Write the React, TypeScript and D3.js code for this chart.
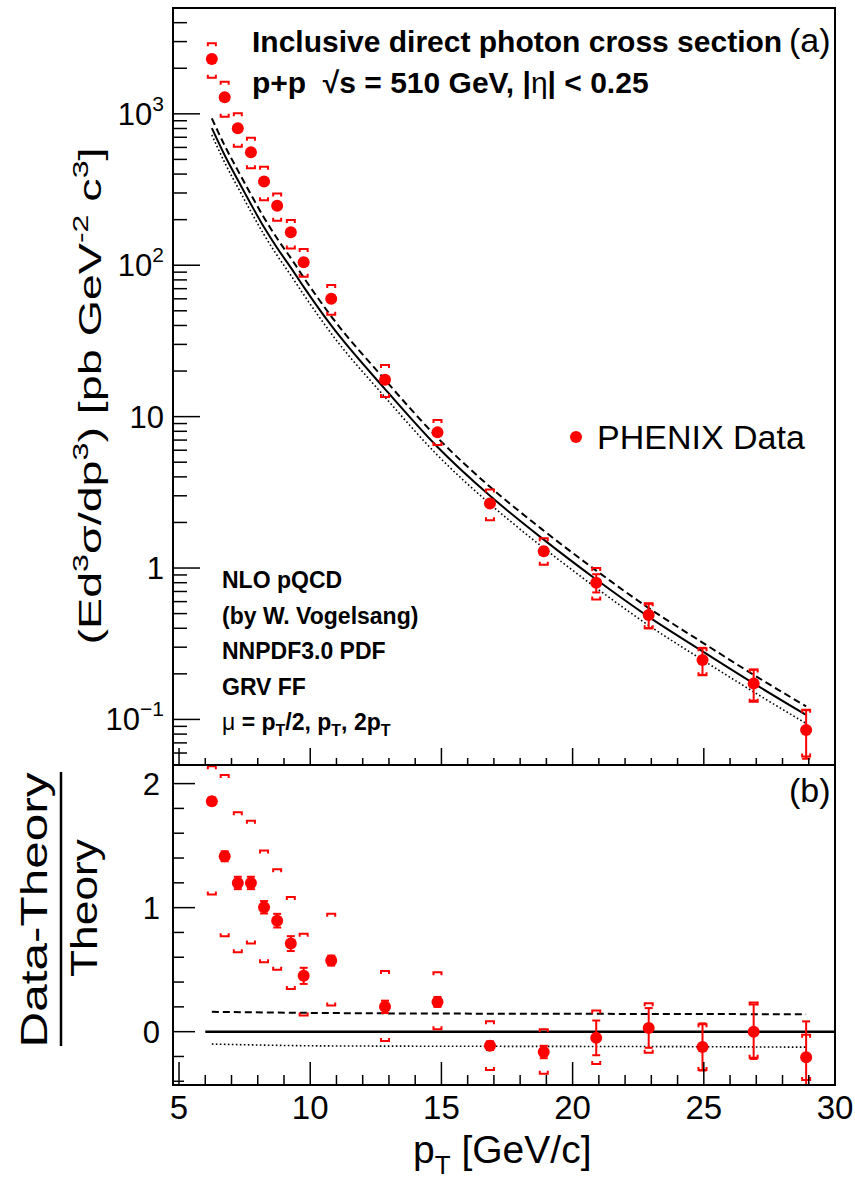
import React from "react";
import * as d3 from "d3";

// ---------- data ----------
const pT = [6.25, 6.74, 7.24, 7.74, 8.24, 8.74, 9.26, 9.75, 10.8, 12.85, 14.85, 16.85, 18.9, 20.9, 22.9, 24.95, 26.9, 28.9];

// upper panel: invariant cross section (pb GeV^-2 c^3)
const xsec = [2300, 1285, 802, 557, 357, 247, 165, 104.5, 60, 17.5, 7.87, 2.67, 1.29, 0.8, 0.49, 0.247, 0.173, 0.085];
const xsecStat = [20, 15, 12, 9, 7, 5, 4, 3, 1.2, 0.5, 0.25, 0.12, 0.07, 0.11, 0.09, 0.05, 0.04, 0.03];
const xsecSysHi = [2930, 1630, 1008, 695, 447, 298, 199, 128, 74, 21.9, 9.5, 3.3, 1.57, 1.0, 0.585, 0.295, 0.214, 0.116];
const xsecSysLo = [1730, 957, 607, 437, 269, 197, 129, 84, 47, 13.5, 6.5, 2.07, 1.05, 0.62, 0.4, 0.196, 0.131, 0.057];

// NLO pQCD curves (mu = pT, pT/2, 2pT)
const theoryMu1 = [805, 532, 365, 253, 178, 130, 96.5, 72, 40, 15.2, 6.3, 3.0, 1.54, 0.84, 0.476, 0.282, 0.173, 0.107];
const theoryMuHalf = [934, 617, 423, 293, 206, 150, 111.5, 83, 46, 17.5, 7.25, 3.44, 1.765, 0.962, 0.544, 0.322, 0.197, 0.122];
const theoryMu2 = [725, 477, 327, 226, 159, 116, 85.8, 64, 35.4, 13.45, 5.56, 2.65, 1.355, 0.739, 0.418, 0.247, 0.152, 0.094];

// lower panel: (Data-Theory)/Theory
const ratio = [1.857, 1.414, 1.199, 1.199, 1.003, 0.895, 0.71, 0.45, 0.573, 0.2, 0.24, -0.113, -0.164, -0.05, 0.03, -0.123, 0.0, -0.207];
const ratioStat = [0.03, 0.04, 0.05, 0.05, 0.05, 0.055, 0.06, 0.065, 0.04, 0.05, 0.04, 0.035, 0.05, 0.14, 0.16, 0.19, 0.22, 0.29];
const ratioSysHi = [2.14, 2.07, 1.77, 1.7, 1.46, 1.31, 1.086, 0.79, 0.95, 0.49, 0.48, 0.083, 0.02, 0.17, 0.23, 0.06, 0.236, -0.025];
const ratioSysLo = [1.105, 0.77, 0.64, 0.71, 0.56, 0.5, 0.344, 0.13, 0.21, -0.075, 0.02, -0.31, -0.34, -0.26, -0.17, -0.31, -0.21, -0.39];

const ratioCurvePt = [6.25, 10.8, 16.85, 22.9, 28.9];
const ratioMuHalf = [0.16, 0.15, 0.145, 0.143, 0.14];
const ratioMu2 = [-0.1, -0.115, -0.118, -0.12, -0.125];

const xMajorTicks = [5, 10, 15, 20, 25, 30];
const topMajorTicks = [0.1, 1, 10, 100, 1000];
const topTickLabels = [
  { base: "10", exp: "\u22121" },
  { base: "1", exp: "" },
  { base: "10", exp: "" },
  { base: "10", exp: "2" },
  { base: "10", exp: "3" },
];
const botMajorTicks = [0, 1, 2];
const botTickLabels = ["0", "1", "2"];

const infoLines = ["NLO pQCD", "(by W. Vogelsang)", "NNPDF3.0 PDF", "GRV FF"];

// ---------- layout ----------
const W = 855;
const H = 1180;
const L = 173;
const R = 835;
const T = 8;
const MID = 765;
const B = 1085;
const RED = "#ff0000";
const FONT = "'Liberation Sans', Arial, Helvetica, sans-serif";

export default function App() {
  const x = d3.scaleLinear().domain([4.77, 30]).range([L, R]);
  const yTop = d3.scaleLog().domain([0.05, 5000]).range([MID, T]);
  const yBot = d3.scaleLinear().domain([-0.43, 2.15]).range([B, MID]);

  const topLine = d3
    .line<[number, number]>()
    .x((d) => x(d[0]))
    .y((d) => yTop(d[1]))
    .curve(d3.curveMonotoneX);
  const botLine = d3
    .line<[number, number]>()
    .x((d) => x(d[0]))
    .y((d) => yBot(d[1]))
    .curve(d3.curveMonotoneX);

  const zip = (a: number[], b: number[]) => a.map((v, i) => [v, b[i]] as [number, number]);

  // minor ticks
  const xMinor = d3.range(5, 31, 1).filter((v) => v % 5 !== 0);
  const topMinor: number[] = [];
  for (let e = -2; e <= 3; e++) {
    for (let m = 2; m <= 9; m++) {
      const v = m * Math.pow(10, e);
      if (v >= 0.05 && v <= 5000) topMinor.push(v);
    }
  }
  const botMinor = d3.range(-0.4, 2.01, 0.2).filter((v) => Math.abs(v - Math.round(v)) > 0.01);

  const bracket = (cx: number, cy: number, up: boolean, key: string) => {
    const hw = 4;
    const leg = 3;
    const d = up
      ? `M${cx - hw},${cy + leg}V${cy}H${cx + hw}V${cy + leg}`
      : `M${cx - hw},${cy - leg}V${cy}H${cx + hw}V${cy - leg}`;
    return <path key={key} d={d} fill="none" stroke={RED} strokeWidth={2} />;
  };

  const statBar = (cx: number, y1: number, y2: number, key: string) => (
    <g key={key} stroke={RED} strokeWidth={2}>
      <line x1={cx} x2={cx} y1={y1} y2={y2} />
      <line x1={cx - 4} x2={cx + 4} y1={y1} y2={y1} />
      <line x1={cx - 4} x2={cx + 4} y1={y2} y2={y2} />
    </g>
  );

  return (
    <svg
      width={W}
      height={H}
      style={{ position: "absolute", left: 0, top: 0, background: "#fff" }}
      fontFamily={FONT}
    >
      <defs>
        <clipPath id="clipTop">
          <rect x={L} y={T} width={R - L} height={MID - T} />
        </clipPath>
        <clipPath id="clipBot">
          <rect x={L} y={MID} width={R - L} height={B - MID} />
        </clipPath>
      </defs>
      <rect x={0} y={0} width={W} height={H} fill="#fff" />

      {/* ---------- upper panel ---------- */}
      <g clipPath="url(#clipTop)">
        <path d={topLine(zip(pT, theoryMuHalf)) || ""} fill="none" stroke="#000" strokeWidth={2} strokeDasharray="7,4" />
        <path d={topLine(zip(pT, theoryMu2)) || ""} fill="none" stroke="#000" strokeWidth={1.6} strokeDasharray="1.6,2.4" />
        <path d={topLine(zip(pT, theoryMu1)) || ""} fill="none" stroke="#000" strokeWidth={2} />
        {pT.map((p, i) => (
          <g key={"ts" + i}>
            {bracket(x(p), yTop(xsecSysHi[i]), true, "a")}
            {bracket(x(p), yTop(xsecSysLo[i]), false, "b")}
          </g>
        ))}
        {pT.map((p, i) => statBar(x(p), yTop(xsec[i] + xsecStat[i]), yTop(xsec[i] - xsecStat[i]), "tst" + i))}
        {pT.map((p, i) => (
          <circle key={"tp" + i} cx={x(p)} cy={yTop(xsec[i])} r={6} fill={RED} />
        ))}
      </g>

      {/* upper panel axes */}
      <g stroke="#000" strokeWidth={1.5}>
        {topMajorTicks.map((v) => (
          <line key={"tm" + v} x1={L} x2={L + 27} y1={yTop(v)} y2={yTop(v)} />
        ))}
        {topMinor.map((v) => (
          <line key={"tn" + v} x1={L} x2={L + 14} y1={yTop(v)} y2={yTop(v)} />
        ))}
        {xMajorTicks.map((v) => (
          <line key={"xm" + v} x1={x(v)} x2={x(v)} y1={MID} y2={MID - 17} />
        ))}
        {xMinor.map((v) => (
          <line key={"xn" + v} x1={x(v)} x2={x(v)} y1={MID} y2={MID - 7} />
        ))}
      </g>
      <rect x={L} y={T} width={R - L} height={MID - T} fill="none" stroke="#000" strokeWidth={2} />

      {topMajorTicks.map((v, i) => (
        <text key={"tl" + v} x={164} y={yTop(v) + 11} textAnchor="end" fontSize={31} fill="#000">
          {topTickLabels[i].base}
          {topTickLabels[i].exp && (
            <tspan fontSize={21} dy={-14}>
              {topTickLabels[i].exp}
            </tspan>
          )}
        </text>
      ))}

      <text
        transform="translate(101,396) rotate(-90)"
        textAnchor="middle"
        fontSize={32}
        fill="#000"
        textLength={497}
        lengthAdjust="spacingAndGlyphs"
      >
        (Ed<tspan fontSize={22} dy={-13}>3</tspan>
        <tspan dy={13}>σ/dp</tspan>
        <tspan fontSize={22} dy={-13}>3</tspan>
        <tspan dy={13}>) [pb GeV</tspan>
        <tspan fontSize={22} dy={-13}>-2</tspan>
        <tspan dy={13}> c</tspan>
        <tspan fontSize={22} dy={-13}>3</tspan>
        <tspan dy={13}>]</tspan>
      </text>

      <text x={252} y={52} fontSize={30} fontWeight="bold" fill="#000">
        Inclusive direct photon cross section
      </text>
      <text x={789} y={52} fontSize={34} fill="#000">
        (a)
      </text>
      <text x={252} y={93} fontSize={30} fontWeight="bold" fill="#000" xmlSpace="preserve">
        {"p+p  \u221As = 510 GeV, |"}
        <tspan fontWeight="normal">η</tspan>
        {"| < 0.25"}
      </text>

      <circle cx={576} cy={437} r={6} fill={RED} />
      <text x={597} y={449} fontSize={34} fill="#000">
        PHENIX Data
      </text>

      {infoLines.map((s, i) => (
        <text key={"info" + i} x={222} y={588 + i * 35.6} fontSize={23} fontWeight="bold" fill="#000">
          {s}
        </text>
      ))}
      <text x={222} y={730} fontSize={23} fontWeight="bold" fill="#000">
        <tspan fontWeight="normal">μ</tspan>
        {" = p"}
        <tspan fontSize={16} dy={6}>T</tspan>
        <tspan dy={-6}>/2, p</tspan>
        <tspan fontSize={16} dy={6}>T</tspan>
        <tspan dy={-6}>, 2p</tspan>
        <tspan fontSize={16} dy={6}>T</tspan>
      </text>

      {/* ---------- lower panel ---------- */}
      <g clipPath="url(#clipBot)">
        <path d={botLine(zip(ratioCurvePt, ratioMuHalf)) || ""} fill="none" stroke="#000" strokeWidth={2} strokeDasharray="7,4" />
        <path d={botLine(zip(ratioCurvePt, ratioMu2)) || ""} fill="none" stroke="#000" strokeWidth={1.6} strokeDasharray="1.6,2.4" />
        <line x1={x(6)} x2={x(30)} y1={yBot(0)} y2={yBot(0)} stroke="#000" strokeWidth={2.5} />
        {pT.map((p, i) => (
          <g key={"bs" + i}>
            {bracket(x(p), yBot(ratioSysHi[i]), true, "a")}
            {bracket(x(p), yBot(ratioSysLo[i]), false, "b")}
          </g>
        ))}
        {pT.map((p, i) => statBar(x(p), yBot(ratio[i] + ratioStat[i]), yBot(ratio[i] - ratioStat[i]), "bst" + i))}
        {pT.map((p, i) => (
          <circle key={"bp" + i} cx={x(p)} cy={yBot(ratio[i])} r={6} fill={RED} />
        ))}
      </g>

      <g stroke="#000" strokeWidth={1.5}>
        {botMajorTicks.map((v) => (
          <line key={"bm" + v} x1={L} x2={L + 22} y1={yBot(v)} y2={yBot(v)} />
        ))}
        {botMinor.map((v, i) => (
          <line key={"bn" + i} x1={L} x2={L + 11} y1={yBot(v)} y2={yBot(v)} />
        ))}
        {xMajorTicks.map((v) => (
          <line key={"bxm" + v} x1={x(v)} x2={x(v)} y1={B} y2={B - 23} />
        ))}
        {xMinor.map((v) => (
          <line key={"bxn" + v} x1={x(v)} x2={x(v)} y1={B} y2={B - 10} />
        ))}
      </g>
      <rect x={L} y={MID} width={R - L} height={B - MID} fill="none" stroke="#000" strokeWidth={2} />

      {botMajorTicks.map((v, i) => (
        <text key={"bl" + v} x={160} y={yBot(v) + 11} textAnchor="end" fontSize={31} fill="#000">
          {botTickLabels[i]}
        </text>
      ))}
      {xMajorTicks.map((v) => (
        <text key={"xl" + v} x={x(v)} y={1119} textAnchor="middle" fontSize={33} fill="#000">
          {v}
        </text>
      ))}

      <text x={413} y={1163} fontSize={39} fill="#000" xmlSpace="preserve">
        p<tspan fontSize={26} dy={11}>T</tspan>
        <tspan dy={-11}>{" [GeV/c]"}</tspan>
      </text>

      <text
        transform="translate(47,910) rotate(-90)"
        textAnchor="middle"
        fontSize={36}
        fill="#000"
        textLength={275}
        lengthAdjust="spacingAndGlyphs"
      >
        Data-Theory
      </text>
      <line x1={61} x2={61} y1={772} y2={1046} stroke="#000" strokeWidth={2.5} />
      <text
        transform="translate(97,908) rotate(-90)"
        textAnchor="middle"
        fontSize={36}
        fill="#000"
        textLength={138}
        lengthAdjust="spacingAndGlyphs"
      >
        Theory
      </text>

      <text x={789} y={802} fontSize={34} fill="#000">
        (b)
      </text>
    </svg>
  );
}
